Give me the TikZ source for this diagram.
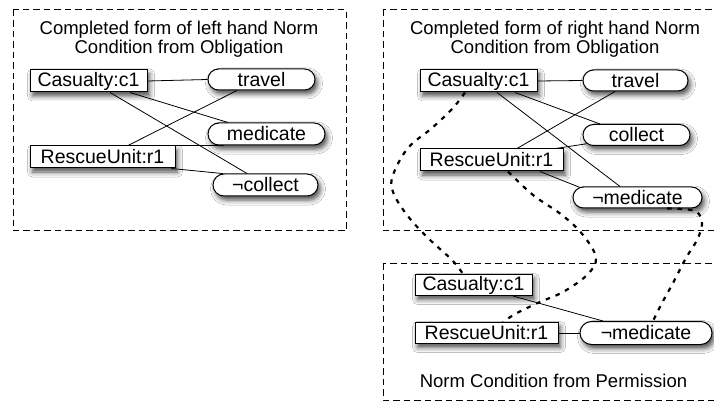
\documentclass[tikz,border=0pt]{standalone}
\usepackage{fontspec}
\setmainfont{Liberation Sans}
\usetikzlibrary{shapes.misc,shadows.blur}
\begin{document}
\begin{tikzpicture}[x=1pt,y=-1pt,
  frame/.style={draw, dash pattern=on 6.5pt off 4pt, line width=1pt},
  shad/.style={blur shadow={shadow xshift=2.5pt, shadow yshift=-4pt, shadow blur radius=5pt, shadow opacity=70}},
  objbox/.style={draw, line width=1pt, fill=white, rectangle, minimum height=22pt, inner sep=0pt, font=\fontsize{19.5}{20}\selectfont, shad},
  pill/.style={draw, line width=1pt, fill=white, rounded rectangle, minimum height=22pt, inner sep=0pt, font=\fontsize{19.5}{20}\selectfont, shad},
  link/.style={line width=0.8pt},
  corr/.style={line width=2.2pt, dash pattern=on 4.5pt off 6pt},
  ttl/.style={align=center, inner sep=0pt, font=\fontsize{18.5}{19.5}\selectfont}
]
\useasboundingbox (0,0) rectangle (714,403);
\clip (0,0) rectangle (714,403);
\fill[white] (0,0) rectangle (714,403);

% frames
\draw[frame] (13,10) rectangle (346,231);
\draw[frame] (383,10) rectangle (720,231);
\draw[frame] (383,263) rectangle (720,400);

% titles
\node[ttl] (tL) at (179,39) {Completed form of left hand Norm\\Condition from Obligation};
\node[ttl] (tR) at (555,39) {Completed form of right hand Norm\\Condition from Obligation};
\node[ttl, anchor=base] (tB) at (553.5,387) {Norm Condition from Permission};

% left panel
\node[objbox, minimum width=117pt] (c1L) at (88.5,81) {Casualty:c1};
\node[objbox, minimum width=145pt] (r1L) at (102.5,157) {RescueUnit:r1};
\node[pill, minimum width=107pt, minimum height=21pt] (travelL) at (261.5,79.5) {travel};
\node[pill, minimum width=117pt] (medL) at (266.5,134) {medicate};
\node[pill, minimum width=105pt] (collectL) at (265.5,185) {¬collect};

% right panel
\node[objbox, minimum width=117pt] (c1R) at (478.5,81) {Casualty:c1};
\node[objbox, minimum width=143pt] (r1R) at (491.5,160) {RescueUnit:r1};
\node[pill, minimum width=105pt, minimum height=21pt] (travelR) at (635.5,80.5) {travel};
\node[pill, minimum width=107pt, minimum height=21pt] (collectR) at (636.5,135) {collect};
\node[pill, minimum width=129pt, minimum height=21pt] (medR) at (637.5,197.5) {¬medicate};

% bottom panel
\node[objbox, minimum width=117pt, minimum height=21pt] (c1B) at (473.5,285) {Casualty:c1};
\node[objbox, minimum width=143pt, minimum height=21pt] (r1B) at (486.5,333) {RescueUnit:r1};
\node[pill, minimum width=132pt, minimum height=23pt] (medB) at (646,333) {¬medicate};

% left links
\draw[link] (c1L.east) -- (travelL.west);
\draw[link] ([xshift=21.5pt]c1L.south) -- ([xshift=-18.5pt]collectL.north);
\draw[link] ([xshift=41.5pt]c1L.south) -- ([xshift=-38.5pt]medL.north);
\draw[link] ([xshift=25.5pt]r1L.north) -- ([xshift=-24.5pt]travelL.south);
\draw[link] (r1L.north east) -- (medL.195);
\draw[link] ([xshift=-4pt]r1L.south east) -- (collectL.165);

% right links
\draw[link] (c1R.east) -- (travelR.west);
\draw[link] ([xshift=18.5pt]c1R.south) -- ([xshift=-17.5pt]medR.north);
\draw[link] ([xshift=36.5pt]c1R.south) -- ([xshift=-36.5pt]collectR.north);
\draw[link] ([xshift=25.5pt]r1R.north) -- ([xshift=-20.5pt]travelR.south);
\draw[link] ([xshift=-8pt]r1R.north east) -- (collectR.190);
\draw[link] ([xshift=48.5pt]r1R.south) -- (medR.170);

% bottom links
\draw[link] ([xshift=39.5pt]c1B.south) -- ([xshift=-43pt]medB.north);
\draw[link] (r1B.east) -- (medB.west);

% correspondences
\draw[corr] plot[smooth, tension=0.6] coordinates {([xshift=-13.5pt]c1R.south) (453,108) (432,128) (408,148) (393,175) (393,192) (407,215) (428,238) (452,260) ([xshift=-10.5pt]c1B.north)};
\draw[corr] plot[smooth, tension=0.6] coordinates {([xshift=16.5pt]r1R.south) (533,195) (562,215) (583,235) (596,258) (587,275) (563,292) (540,302) (517,313) ([xshift=16.5pt]r1B.north)};
\draw[corr] plot[smooth, tension=0.6] coordinates {([xshift=29.5pt]medR.south) (682,209) (697,212) (702,224) (697,240) (686,258) (673,283) (662,303) ([xshift=7pt]medB.north)};
\end{tikzpicture}
\end{document}
